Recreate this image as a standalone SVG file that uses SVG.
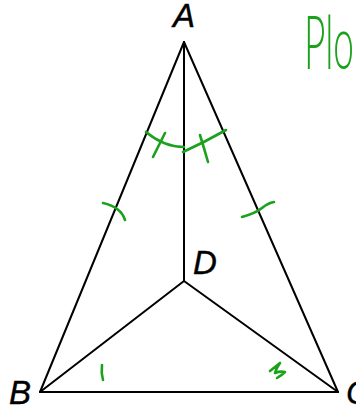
<svg xmlns="http://www.w3.org/2000/svg" width="356" height="411" viewBox="0 0 356 411">
<style>
.edge{stroke:#000;stroke-width:2;fill:none;stroke-linecap:round}
.lbl{font-family:"Liberation Sans",Arial,sans-serif;font-style:italic;font-size:33px;fill:#000;stroke:#000;stroke-width:0.4}
.mark{stroke:#1ba11b;stroke-width:2.6;fill:none;stroke-linecap:round;stroke-linejoin:round}
.hand{font-family:Lato,"Liberation Sans",Arial,sans-serif;font-weight:300;font-size:74px;fill:#1ba11b}
</style>
<rect width="356" height="411" fill="#fff"/>
<g id="connectors">
<line class="edge" x1="184" y1="42" x2="40" y2="392"/>
<line class="edge" x1="184" y1="42" x2="338" y2="392"/>
<line class="edge" x1="40" y1="392" x2="338" y2="392"/>
<line class="edge" x1="184" y1="42" x2="184" y2="281"/>
<line class="edge" x1="184" y1="281" x2="40" y2="392"/>
<line class="edge" x1="184" y1="281" x2="338" y2="392"/>
</g>
<g id="A"><text class="lbl" x="184" y="27" text-anchor="middle">A</text></g>
<g id="B"><text class="lbl" x="9" y="404">B</text></g>
<g id="C"><text class="lbl" x="346" y="404">C</text></g>
<g id="D"><text class="lbl" x="193" y="274">D</text></g>
<g id="marks">
<path class="mark" d="M146,132 Q164,147 184,147"/>
<path class="mark" d="M183,152 Q205,142 226,130"/>
<path class="mark" d="M165,133 L153,157"/>
<path class="mark" d="M200,135 Q204,148 208,162"/>
<path class="mark" d="M103,203 Q121,207 125,220"/>
<path class="mark" d="M242,217 Q256,213 262,208 Q268,203 274,202"/>
<path class="mark" d="M102,365 Q101,373 103,380"/>
<path class="mark" d="M270,371 L280,363 Q276,369 275,373 Q280,371 285,372 Q282,375 277,378"/>
<text class="hand" transform="translate(304,69) scale(0.5,1)">Plo</text>
</g>
</svg>
